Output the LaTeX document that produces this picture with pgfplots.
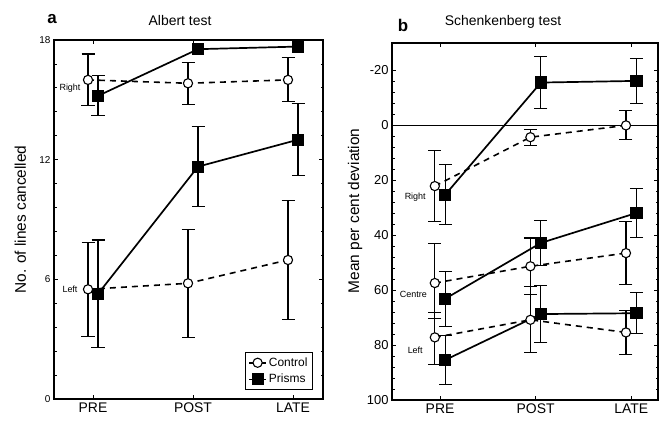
\documentclass[border=0pt]{standalone}
\usepackage{pgfplots}
\pgfplotsset{compat=1.18}
\usepackage{fontspec}
\setmainfont{Liberation Sans}
\setsansfont{Liberation Sans}

\pgfplotsset{
  ebar/.style={error bars/y dir=both, error bars/y explicit,
    error bars/error bar style={line width=1.1bp, solid},
    error bars/error mark options={rotate=90, mark size=6.5bp, line width=1.1bp, solid}},
  ctl/.style={black, line width=1.6bp, dash pattern=on 6bp off 5bp,
    mark=*, mark size=4.6bp, mark options={solid, fill=white, line width=1.1bp}, ebar},
  prs/.style={black, line width=1.7bp, solid,
    mark=square*, mark size=5.2bp, mark options={solid, fill=black}, ebar},
  fig/.style={scale only axis, anchor=south west, clip=false,
    tick align=inside, major tick length=4bp, minor tick length=2.5bp,
    axis line style={line width=1.3bp}, every tick/.style={black, line width=0.8bp},
    xtick={0,1,2}, xticklabels={PRE,POST,LATE},
    xticklabel style={font=\fontsize{14}{14}\selectfont},
    /pgf/number format/assume math mode=true},
}

\begin{document}
\begin{tikzpicture}
\path[use as bounding box] (0,0) rectangle (660bp,422bp);

% panel a
\begin{axis}[fig, at={(54bp,23bp)}, width=269bp, height=359bp,
  xmin=-0.39, xmax=2.3, ymin=0, ymax=18,
  ytick={0,6,12,18}, minor y tick num=4,
  yticklabel style={font=\fontsize{10}{10}\selectfont},
  ylabel={No. of lines cancelled},
  ylabel style={font=\fontsize{15.5}{15.5}\selectfont, at={(axis description cs:-0.125,0.5)}, anchor=center},
  legend style={at={(0.963,0.025)}, anchor=south east, draw=black, line width=1.1bp,
    font=\fontsize{12}{13}\selectfont, row sep=2.5bp, inner sep=3bp},
  legend cell align=left]
  % Right, control
  \addplot[ctl] coordinates {(-0.05,16.0) +- (0,1.3) (0.95,15.83) +- (0,1.05) (1.95,16.0) +- (0,1.1)};
  \addlegendentry{Control}
  % Right, prisms
  \addplot[ebar, draw=none, mark=none, forget plot] coordinates {(0.05,15.2) +- (0,1.0)};
  \addplot[prs, error bars/y dir=none] coordinates {(0.05,15.2) (1.05,17.54) (2.05,17.67)};
  \addlegendentry{Prisms}
  % Left, control
  \addplot[ctl, forget plot] coordinates {(-0.05,5.5) +- (0,2.35) (0.95,5.8) +- (0,2.7) (1.95,6.97) +- (0,3.0)};
  % Left, prisms
  \addplot[prs, forget plot] coordinates {(0.05,5.27) +- (0,2.7) (1.05,11.65) +- (0,2.0) (2.05,13.0) +- (0,1.8)};
  \node[font=\fontsize{9}{9}\selectfont] at (axis cs:-0.23,15.6) {Right};
  \node[font=\fontsize{9}{9}\selectfont] at (axis cs:-0.23,5.5) {Left};
\end{axis}

% panel b
\begin{axis}[fig, at={(392bp,22bp)}, width=266bp, height=357bp,
  xmin=-0.503, xmax=2.28, ymin=-30, ymax=100, y dir=reverse,
  ytick={-20,0,20,40,60,80,100}, yticklabels={-20,0,20,40,60,80,100}, minor y tick num=4,
  yticklabel style={font=\fontsize{13}{13}\selectfont},
  ylabel={Mean per cent deviation},
  ylabel style={font=\fontsize{15.5}{15.5}\selectfont, at={(axis description cs:-0.139,0.53)}, anchor=center}]
  \draw[line width=1bp] (axis cs:-0.503,0) -- (axis cs:2.28,0);
  % Right
  \addplot[ctl] coordinates {(-0.055,22.1) +- (0,13) (0.945,4.3) +- (0,2.9) (1.945,0) +- (0,5.3)};
  \addplot[prs] coordinates {(0.055,25.2) +- (0,11) (1.055,-15.6) +- (0,9.5) (2.055,-16.2) +- (0,8.3)};
  % Centre
  \addplot[ctl] coordinates {(-0.055,57.4) += (0,13) -= (0,14.3) (0.945,51.3) +- (0,10.3) (1.945,46.5) +- (0,11.5)};
  \addplot[prs] coordinates {(0.055,63.1) +- (0,10) (1.055,42.8) +- (0,8.1) (2.055,31.9) +- (0,8.8)};
  % Left
  \addplot[ctl] coordinates {(-0.055,77.2) += (0,9.8) -= (0,9.2) (0.945,70.8) +- (0,12) (1.945,75.4) +- (0,8)};
  \addplot[prs] coordinates {(0.055,85.4) +- (0,8.8) (1.055,68.7) +- (0,10.3) (2.055,68.4) +- (0,7.5)};
  \node[font=\fontsize{9}{9}\selectfont] at (axis cs:-0.26,26.3) {Right};
  \node[font=\fontsize{9}{9}\selectfont] at (axis cs:-0.28,61.7) {Centre};
  \node[font=\fontsize{9}{9}\selectfont] at (axis cs:-0.26,81.8) {Left};
\end{axis}

% panel titles
\node[font=\fontsize{17}{17}\selectfont\bfseries] at (52bp,403bp) {a};
\node[font=\fontsize{14}{14}\selectfont] at (180bp,401bp) {Albert test};
\node[font=\fontsize{17}{17}\selectfont\bfseries] at (403bp,397bp) {b};
\node[font=\fontsize{14}{14}\selectfont] at (503bp,400bp) {Schenkenberg test};
\end{tikzpicture}
\end{document}
